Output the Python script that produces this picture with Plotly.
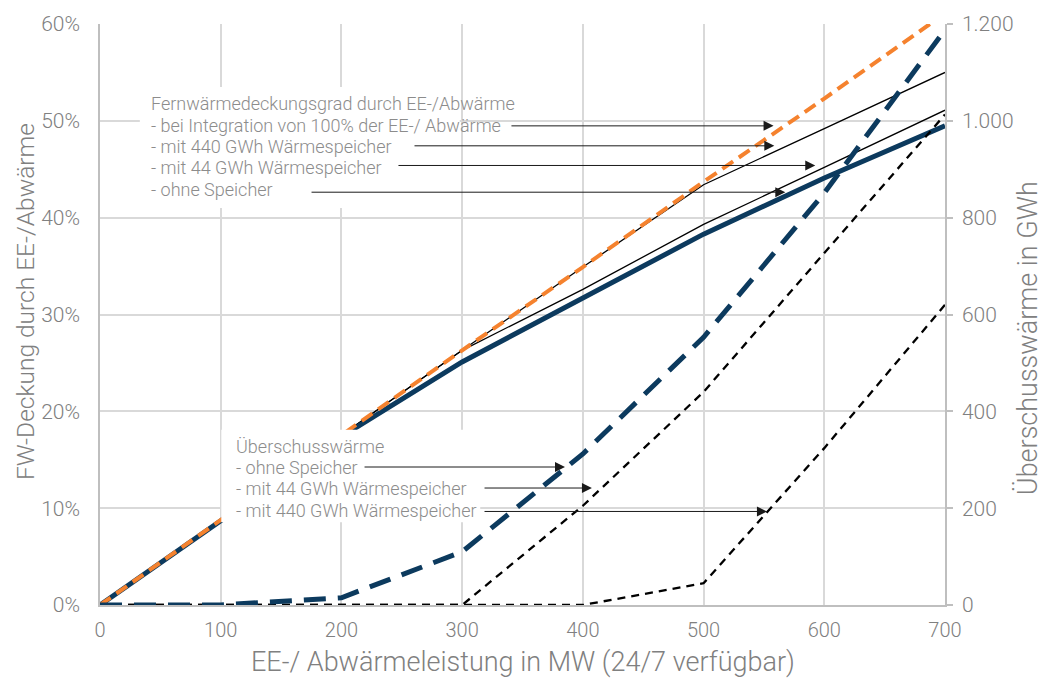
import plotly.graph_objects as go

# ---------------- data ----------------
leistung_mw = [0, 100, 200, 300, 400, 500, 600, 700]

# FW-Deckung durch EE-/Abwärme in %
deckung_100 = [0, 8.75, 17.5, 26.3, 34.9, 43.7, 52.3, 61.1]
deckung_440 = [0, 8.75, 17.5, 26.3, 34.9, 43.4, 49.2, 55.0]
deckung_44 = [0, 8.75, 17.5, 26.3, 32.6, 39.3, 45.2, 51.1]
deckung_ohne = [0, 8.7, 17.4, 25.1, 31.7, 38.3, 44.1, 49.5]

# Überschusswärme in GWh
ueberschuss_ohne = [0, 0, 15, 110, 312, 553, 851, 1188]
ueberschuss_44 = [0, 0, 0, 0, 205, 440, 727, 1013]
ueberschuss_440 = [0, 0, 0, 0, 0, 45, 324, 620]

x_ticks = [0, 100, 200, 300, 400, 500, 600, 700]
y_left_ticks = [0, 10, 20, 30, 40, 50, 60]
y_left_labels = ["0%", "10%", "20%", "30%", "40%", "50%", "60%"]
y_right_ticks = [0, 200, 400, 600, 800, 1000, 1200]
y_right_labels = ["0", "200", "400", "600", "800", "1.000", "1.200"]

title_x = "EE-/ Abwärmeleistung in MW (24/7 verfügbar)"
title_y_left = "FW-Deckung durch EE-/Abwärme"
title_y_right = "Überschusswärme in GWh"

lines_deckung = ["Fernwärmedeckungsgrad durch EE-/Abwärme",
                 "- bei Integration von 100% der EE-/ Abwärme",
                 "- mit 440 GWh Wärmespeicher",
                 "- mit 44 GWh Wärmespeicher",
                 "- ohne Speicher"]
lines_ueberschuss = ["Überschusswärme",
                     "- ohne Speicher",
                     "- mit 44 GWh Wärmespeicher",
                     "- mit 440 GWh Wärmespeicher"]

# arrows: (tail_x, tip_x, y_percent)
arrows = [
    (339.6, 558.0, 49.48),
    (259.3, 558.6, 47.42),
    (246.0, 592.5, 45.39),
    (174.0, 567.7, 42.63),
    (217.9, 385.2, 14.25),
    (317.3, 407.5, 12.08),
    (317.3, 552.5, 9.66),
]

NAVY = "#0c3a5e"
ORANGE = "#f5822e"
GRID = "#d9d9d9"
TXT = "#808080"
FONT = "Roboto"

fig = go.Figure()

fig.add_trace(go.Scatter(x=leistung_mw, y=deckung_440, mode="lines",
                         line=dict(color="#000000", width=1.3), yaxis="y"))
fig.add_trace(go.Scatter(x=leistung_mw, y=deckung_44, mode="lines",
                         line=dict(color="#000000", width=1.3), yaxis="y"))
fig.add_trace(go.Scatter(x=leistung_mw, y=deckung_ohne, mode="lines",
                         line=dict(color=NAVY, width=5), yaxis="y"))
fig.add_trace(go.Scatter(x=leistung_mw, y=deckung_100, mode="lines",
                         line=dict(color=ORANGE, width=4, dash="13px,7px"), yaxis="y"))
fig.add_trace(go.Scatter(x=leistung_mw, y=ueberschuss_440, mode="lines",
                         line=dict(color="#000000", width=2.3, dash="8px,6px"), yaxis="y2"))
fig.add_trace(go.Scatter(x=leistung_mw, y=ueberschuss_44, mode="lines",
                         line=dict(color="#000000", width=2.3, dash="8px,6px"), yaxis="y2"))
fig.add_trace(go.Scatter(x=leistung_mw, y=ueberschuss_ohne, mode="lines",
                         line=dict(color=NAVY, width=5, dash="22px,12px"), yaxis="y2"))

shapes = [
    dict(type="rect", xref="x", yref="y", x0=33, x1=298, y0=41.0, y1=53.5,
         fillcolor="white", line=dict(width=0), layer="above"),
    dict(type="rect", xref="x", yref="y", x0=100.5, x1=315, y0=8.55, y1=18.1,
         fillcolor="white", line=dict(width=0), layer="above"),
]

annotations = []
LINE_STEP = 2.22  # percent per text line (~21.5 px)
for i, t in enumerate(lines_deckung):
    annotations.append(dict(x=41, y=51.79 - i * LINE_STEP, xref="x", yref="y", text=t,
                            showarrow=False, xanchor="left", yanchor="middle",
                            font=dict(family=FONT, size=18, color="#8c8c8c", weight=300)))
for i, t in enumerate(lines_ueberschuss):
    annotations.append(dict(x=111, y=16.42 - i * LINE_STEP, xref="x", yref="y", text=t,
                            showarrow=False, xanchor="left", yanchor="middle",
                            font=dict(family=FONT, size=18, color="#8c8c8c", weight=300)))
for tail, tip, yy in arrows:
    annotations.append(dict(x=tip, y=yy, ax=tail, ay=yy, xref="x", yref="y",
                            axref="x", ayref="y", text="", showarrow=True,
                            arrowhead=2, arrowsize=2, arrowwidth=1,
                            arrowcolor="#1a1a1a", standoff=0, startstandoff=0))

# axis titles
annotations.append(dict(x=0.5, y=-0.098, xref="paper", yref="paper", text=title_x,
                        showarrow=False, xanchor="center", yanchor="middle",
                        font=dict(family=FONT, size=27, color=TXT, weight=300)))
annotations.append(dict(x=-0.089, y=0.523, xref="paper", yref="paper", text=title_y_left,
                        showarrow=False, xanchor="center", yanchor="middle", textangle=-90,
                        font=dict(family=FONT, size=24.5, color=TXT, weight=300)))
annotations.append(dict(x=1.0975, y=0.46, xref="paper", yref="paper", text=title_y_right,
                        showarrow=False, xanchor="center", yanchor="middle", textangle=-90,
                        font=dict(family=FONT, size=27, color=TXT, weight=300)))

fig.update_layout(
    width=1040, height=672,
    margin=dict(l=92, r=103, t=16, b=75),
    paper_bgcolor="white", plot_bgcolor="white",
    showlegend=False,
    font=dict(family=FONT, color=TXT, weight=300),
    shapes=shapes, annotations=annotations,
    xaxis=dict(range=[0, 700], tickvals=x_ticks, showgrid=True, gridcolor=GRID,
               gridwidth=1.5, showline=True, linecolor="#bfbfbf", linewidth=1.5,
               zeroline=False, ticks="", ticklabelstandoff=6, automargin=False,
               tickfont=dict(family=FONT, size=20, color=TXT, weight=300)),
    yaxis=dict(range=[0, 60], tickvals=y_left_ticks, ticktext=y_left_labels,
               showgrid=True, automargin=False,
               gridcolor=GRID, gridwidth=1.5, showline=True, linecolor="#bfbfbf",
               linewidth=1.5, zeroline=False, ticks="", ticklabelstandoff=14,
               tickfont=dict(family=FONT, size=21, color=TXT, weight=300)),
    yaxis2=dict(range=[0, 1200], tickvals=y_right_ticks, ticktext=y_right_labels,
                overlaying="y", side="right", showgrid=False, showline=True,
                linecolor="#bfbfbf", linewidth=1.5, zeroline=False, automargin=False,
                ticks="outside", ticklen=6, tickcolor="#bfbfbf", tickwidth=1.5,
                ticklabelstandoff=5,
                tickfont=dict(family=FONT, size=21, color=TXT, weight=300)),
)

fig.write_html("out.html")
